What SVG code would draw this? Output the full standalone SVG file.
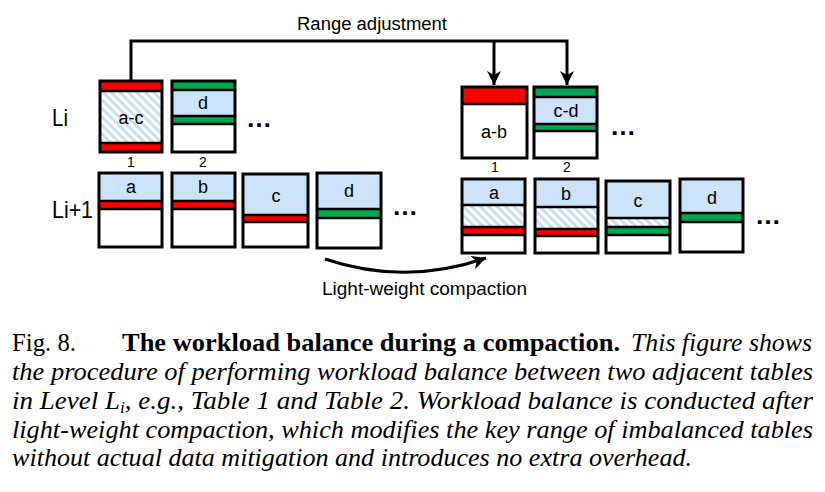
<svg xmlns="http://www.w3.org/2000/svg" width="825" height="492" viewBox="0 0 825 492">
<style>
.bx{fill:none;stroke:#000;stroke-width:3}
.sep{stroke:#000;stroke-width:2.5}
.red{fill:#ff0000}
.grn{fill:#00a650}
.blu{fill:#cce4f9}
.wht{fill:#fff}
.hat{fill:url(#hatch)}
.lbl{font-family:"Liberation Sans",Arial,sans-serif;font-size:18px;fill:#000;text-anchor:middle}
.num{font-family:"Liberation Sans",Arial,sans-serif;font-size:14px;fill:#000;text-anchor:middle}
.lvl{font-family:"Liberation Sans",Arial,sans-serif;font-size:24px;fill:#000}
.dots{font-family:"Liberation Sans",Arial,sans-serif;font-size:26px;font-weight:bold;fill:#000}
.note{font-family:"Liberation Sans",Arial,sans-serif;font-size:18px;fill:#000}
.cap{font-family:"Liberation Serif","Times New Roman",serif;font-size:25px;fill:#000}
.it{font-style:italic}
.b{font-weight:bold}
.conn{fill:none;stroke:#000;stroke-width:3}
</style>
<defs>
<pattern id="hatch" patternUnits="userSpaceOnUse" width="6" height="6" patternTransform="rotate(-45)">
<rect width="6" height="6" fill="#ffffff"/>
<rect width="3" height="6" fill="#c9def2"/>
</pattern>
<marker id="arr" markerUnits="userSpaceOnUse" markerWidth="16" markerHeight="14" refX="14" refY="7" orient="auto">
<path d="M0,0 L14,7 L0,14 L4,7 z" fill="#000"/>
</marker>
</defs>

<g id="labels">
<text class="lvl" x="52" y="126" textLength="16" lengthAdjust="spacingAndGlyphs">Li</text>
<text class="lvl" x="52" y="218" textLength="41" lengthAdjust="spacingAndGlyphs">Li+1</text>
</g>

<g id="connectors">
<path class="conn" d="M131,81 V41 H567 V85" marker-end="url(#arr)"/>
<path class="conn" d="M494,41 V85" marker-end="url(#arr)"/>
<path class="conn" d="M325,259 Q405,286 486,258" marker-end="url(#arr)"/>
<text class="note" x="297" y="30" textLength="150" lengthAdjust="spacingAndGlyphs">Range adjustment</text>
<text class="note" x="322" y="295" textLength="205" lengthAdjust="spacingAndGlyphs">Light-weight compaction</text>
</g>

<!-- Left Li -->
<g id="L-Li-1">
<rect class="red" x="100" y="81" width="62" height="10"/>
<rect class="hat" x="100" y="91" width="62" height="52"/>
<rect class="red" x="100" y="143" width="62" height="9"/>
<line class="sep" x1="100" y1="91" x2="162" y2="91"/>
<line class="sep" x1="100" y1="143" x2="162" y2="143"/>
<rect class="bx" x="100" y="81" width="62" height="71"/>
<text class="lbl" x="131" y="124">a-c</text>
<text class="num" x="131" y="167">1</text>
</g>
<g id="L-Li-2">
<rect class="grn" x="172" y="81" width="63" height="9"/>
<rect class="blu" x="172" y="90" width="63" height="26"/>
<rect class="grn" x="172" y="116" width="63" height="8"/>
<rect class="wht" x="172" y="124" width="63" height="28"/>
<line class="sep" x1="172" y1="90" x2="235" y2="90"/>
<line class="sep" x1="172" y1="116" x2="235" y2="116"/>
<line class="sep" x1="172" y1="124" x2="235" y2="124"/>
<rect class="bx" x="172" y="81" width="63" height="71"/>
<text class="lbl" x="203" y="109">d</text>
<text class="num" x="203" y="167">2</text>
</g>
<text class="dots" x="246" y="127">…</text>

<!-- Right Li -->
<g id="R-Li-1">
<rect class="red" x="462" y="87" width="65" height="17"/>
<rect class="wht" x="462" y="104" width="65" height="54"/>
<line class="sep" x1="462" y1="104" x2="527" y2="104"/>
<rect class="bx" x="462" y="87" width="65" height="71"/>
<text class="lbl" x="494" y="138">a-b</text>
<text class="num" x="495" y="172">1</text>
</g>
<g id="R-Li-2">
<rect class="grn" x="534" y="87" width="63" height="10"/>
<rect class="blu" x="534" y="97" width="63" height="27"/>
<rect class="grn" x="534" y="124" width="63" height="7"/>
<rect class="wht" x="534" y="131" width="63" height="27"/>
<line class="sep" x1="534" y1="97" x2="597" y2="97"/>
<line class="sep" x1="534" y1="124" x2="597" y2="124"/>
<line class="sep" x1="534" y1="131" x2="597" y2="131"/>
<rect class="bx" x="534" y="87" width="63" height="71"/>
<text class="lbl" x="566" y="117">c-d</text>
<text class="num" x="567" y="172">2</text>
</g>
<text class="dots" x="610" y="135">…</text>

<!-- Left Li+1 -->
<g id="L-Li1-a">
<rect class="blu" x="99" y="173" width="63" height="28"/>
<rect class="red" x="99" y="201" width="63" height="8"/>
<rect class="wht" x="99" y="209" width="63" height="38"/>
<line class="sep" x1="99" y1="201" x2="162" y2="201"/>
<line class="sep" x1="99" y1="209" x2="162" y2="209"/>
<rect class="bx" x="99" y="173" width="63" height="74"/>
<text class="lbl" x="131" y="193">a</text>
</g>
<g id="L-Li1-b">
<rect class="blu" x="172" y="173" width="63" height="28"/>
<rect class="red" x="172" y="201" width="63" height="8"/>
<rect class="wht" x="172" y="209" width="63" height="38"/>
<line class="sep" x1="172" y1="201" x2="235" y2="201"/>
<line class="sep" x1="172" y1="209" x2="235" y2="209"/>
<rect class="bx" x="172" y="173" width="63" height="74"/>
<text class="lbl" x="203" y="193">b</text>
</g>
<g id="L-Li1-c">
<rect class="blu" x="243" y="174" width="65" height="41"/>
<rect class="red" x="243" y="215" width="65" height="7"/>
<rect class="wht" x="243" y="222" width="65" height="25"/>
<line class="sep" x1="243" y1="215" x2="308" y2="215"/>
<line class="sep" x1="243" y1="222" x2="308" y2="222"/>
<rect class="bx" x="243" y="174" width="65" height="73"/>
<text class="lbl" x="276" y="202">c</text>
</g>
<g id="L-Li1-d">
<rect class="blu" x="317" y="173" width="64" height="36"/>
<rect class="grn" x="317" y="209" width="64" height="9"/>
<rect class="wht" x="317" y="218" width="64" height="30"/>
<line class="sep" x1="317" y1="209" x2="381" y2="209"/>
<line class="sep" x1="317" y1="218" x2="381" y2="218"/>
<rect class="bx" x="317" y="173" width="64" height="75"/>
<text class="lbl" x="349" y="197">d</text>
</g>
<text class="dots" x="392" y="215">…</text>

<!-- Right Li+1 -->
<g id="R-Li1-a">
<rect class="blu" x="462" y="179" width="63" height="26"/>
<rect class="hat" x="462" y="205" width="63" height="22"/>
<rect class="red" x="462" y="227" width="63" height="8"/>
<rect class="wht" x="462" y="235" width="63" height="18"/>
<line class="sep" x1="462" y1="205" x2="525" y2="205"/>
<line class="sep" x1="462" y1="227" x2="525" y2="227"/>
<line class="sep" x1="462" y1="235" x2="525" y2="235"/>
<rect class="bx" x="462" y="179" width="63" height="74"/>
<text class="lbl" x="494" y="199">a</text>
</g>
<g id="R-Li1-b">
<rect class="blu" x="535" y="179" width="63" height="28"/>
<rect class="hat" x="535" y="207" width="63" height="22"/>
<rect class="red" x="535" y="229" width="63" height="7"/>
<rect class="wht" x="535" y="236" width="63" height="17"/>
<line class="sep" x1="535" y1="207" x2="598" y2="207"/>
<line class="sep" x1="535" y1="229" x2="598" y2="229"/>
<line class="sep" x1="535" y1="236" x2="598" y2="236"/>
<rect class="bx" x="535" y="179" width="63" height="74"/>
<text class="lbl" x="566" y="200">b</text>
</g>
<g id="R-Li1-c">
<rect class="blu" x="606" y="181" width="64" height="37"/>
<rect class="hat" x="606" y="218" width="64" height="9"/>
<rect class="grn" x="606" y="227" width="64" height="8"/>
<rect class="wht" x="606" y="235" width="64" height="18"/>
<line class="sep" x1="606" y1="218" x2="670" y2="218"/>
<line class="sep" x1="606" y1="227" x2="670" y2="227"/>
<line class="sep" x1="606" y1="235" x2="670" y2="235"/>
<rect class="bx" x="606" y="181" width="64" height="72"/>
<text class="lbl" x="638" y="207">c</text>
</g>
<g id="R-Li1-d">
<rect class="blu" x="680" y="179" width="63" height="34"/>
<rect class="grn" x="680" y="213" width="63" height="9"/>
<rect class="wht" x="680" y="222" width="63" height="30"/>
<line class="sep" x1="680" y1="213" x2="743" y2="213"/>
<line class="sep" x1="680" y1="222" x2="743" y2="222"/>
<rect class="bx" x="680" y="179" width="63" height="73"/>
<text class="lbl" x="712" y="204">d</text>
</g>
<text class="dots" x="755" y="224">…</text>

<g id="caption">
<text class="cap" x="12" y="351" textLength="64" lengthAdjust="spacingAndGlyphs">Fig. 8.</text>
<text class="cap b" x="122" y="351" textLength="498" lengthAdjust="spacingAndGlyphs">The workload balance during a compaction.</text>
<text class="cap it" x="631" y="351" textLength="181" lengthAdjust="spacingAndGlyphs">This figure shows</text>
<text class="cap it" x="12" y="380" textLength="801" lengthAdjust="spacingAndGlyphs">the procedure of performing workload balance between two adjacent tables</text>
<text class="cap it" x="12" y="409" textLength="801" lengthAdjust="spacingAndGlyphs">in Level L<tspan font-size="16" dy="4">i</tspan><tspan dy="-4">, e.g., Table 1 and Table 2. Workload balance is conducted after</tspan></text>
<text class="cap it" x="12" y="438" textLength="801" lengthAdjust="spacingAndGlyphs">light-weight compaction, which modifies the key range of imbalanced tables</text>
<text class="cap it" x="12" y="466" textLength="680" lengthAdjust="spacingAndGlyphs">without actual data mitigation and introduces no extra overhead.</text>
</g>
</svg>
